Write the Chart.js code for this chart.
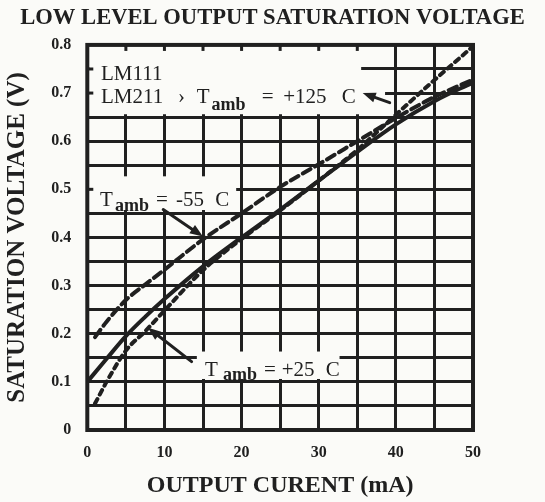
<!DOCTYPE html>
<html><head><meta charset="utf-8">
<script src="https://cdn.jsdelivr.net/npm/chart.js@4.4.0/dist/chart.umd.min.js"></script>
<style>html,body{margin:0;padding:0;background:#fbfbf8;}</style>
</head><body>
<canvas id="c" width="545" height="502" style="width:545px;height:502px;display:block"></canvas>
<script>
// ---- data ----
const currentPlus25  = [0, 2.5, 5, 7.5, 10, 15, 20, 25, 30, 35, 40, 45, 50];
const voltagePlus25  = [0.100, 0.148, 0.195, 0.235, 0.272, 0.340, 0.400, 0.458, 0.518, 0.578, 0.635, 0.683, 0.722];
const currentMinus55 = [1, 2.5, 5, 7.5, 10, 15, 20, 25, 30, 35, 40, 45, 50];
const voltageMinus55 = [0.193, 0.225, 0.270, 0.302, 0.333, 0.396, 0.450, 0.505, 0.552, 0.600, 0.648, 0.692, 0.728];
const currentPlus125 = [1, 2.5, 5, 7.5, 10, 15, 20, 25, 30, 35, 40, 45, 50];
const voltagePlus125 = [0.055, 0.100, 0.165, 0.205, 0.248, 0.332, 0.397, 0.456, 0.518, 0.582, 0.655, 0.727, 0.797];
const xTickLabels = ['0', '10', '20', '30', '40', '50'];
const yTickLabels = ['0', '0.1', '0.2', '0.3', '0.4', '0.5', '0.6', '0.7', '0.8'];

const INK = '#202020';
const PAPER = '#fbfbf8';
const pts = (xs, ys) => xs.map((x, i) => ({x: x, y: ys[i]}));

// areas of the printed grid that are left blank (data units)
const blankAreas = [
  [0, 35.5, 0.656, 0.8],
  [0, 38.6, 0.680, 0.722],
  [0, 19.3, 0.457, 0.527],
  [14.2, 32.7, 0.106, 0.163]
];

const paperPlugin = {
  id: 'paper',
  beforeDraw(chart) {
    const c = chart.ctx;
    c.save(); c.fillStyle = PAPER; c.fillRect(0, 0, chart.width, chart.height); c.restore();
  },
  beforeDatasetsDraw(chart) {
    const c = chart.ctx, xs = chart.scales.x, ys = chart.scales.y, a = chart.chartArea;
    c.save();
    c.fillStyle = PAPER;
    blankAreas.forEach(b => {
      let x0 = Math.max(xs.getPixelForValue(b[0]), a.left + 2);
      let x1 = xs.getPixelForValue(b[1]);
      let y0 = Math.max(ys.getPixelForValue(b[3]), a.top + 2);
      let y1 = ys.getPixelForValue(b[2]);
      c.fillRect(x0, y0, x1 - x0, y1 - y0);
    });
    c.strokeStyle = INK; c.lineWidth = 3;
    [5, 10, 15, 20, 25, 30, 35].forEach(v => {
      const x = xs.getPixelForValue(v);
      c.beginPath(); c.moveTo(x, a.top); c.lineTo(x, a.top + 6); c.stroke();
    });
    [0.7, 0.75, 0.5].forEach(v => {
      const y = ys.getPixelForValue(v);
      c.beginPath(); c.moveTo(a.left, y); c.lineTo(a.left + 6, y); c.stroke();
    });
    c.lineWidth = 4;
    c.strokeRect(a.left, a.top, a.right - a.left, a.bottom - a.top);
    c.restore();
  },
  afterDatasetsDraw(chart) {
    const c = chart.ctx, xs = chart.scales.x, ys = chart.scales.y;
    const X = v => xs.getPixelForValue(v), Y = v => ys.getPixelForValue(v);
    c.save();
    c.fillStyle = INK; c.strokeStyle = INK;
    c.textBaseline = 'alphabetic'; c.textAlign = 'left';
    const main = '21px "Liberation Serif"';
    const sub = 'bold 18px "Liberation Serif"';
    const txt = (s, x, y, f) => { c.font = f; c.fillText(s, X(x), Y(y)); };
    // LM111 / LM211 } Tamb = +125 C
    txt('LM111', 1.77, 0.727, main);
    txt('LM211', 1.77, 0.679, main);
    txt('›', 11.75, 0.679, main);
    txt('T', 14.2, 0.679, main);
    txt('amb', 16.1, 0.664, sub);
    txt('=', 22.6, 0.679, main);
    txt('+125', 25.4, 0.679, main);
    txt('C', 33.0, 0.679, main);
    // Tamb = -55 C
    txt('T', 1.65, 0.465, main);
    txt('amb', 3.6, 0.454, sub);
    txt('=', 8.9, 0.465, main);
    txt('-55', 11.5, 0.465, main);
    txt('C', 16.6, 0.465, main);
    // Tamb = +25 C
    txt('T', 15.25, 0.113, main);
    txt('amb', 17.6, 0.104, sub);
    txt('=', 22.9, 0.113, main);
    txt('+25', 25.2, 0.113, main);
    txt('C', 30.9, 0.113, main);
    // arrows
    const arrow = (tx, ty, hx, hy) => {
      const x0 = X(tx), y0 = Y(ty), x1 = X(hx), y1 = Y(hy);
      const ang = Math.atan2(y1 - y0, x1 - x0), L = 13, W = 5;
      c.lineWidth = 3; c.lineCap = 'round';
      c.beginPath(); c.moveTo(x0, y0); c.lineTo(x1 - Math.cos(ang) * L * 0.7, y1 - Math.sin(ang) * L * 0.7); c.stroke();
      c.beginPath();
      c.moveTo(x1, y1);
      c.lineTo(x1 - Math.cos(ang) * L - Math.sin(ang) * W, y1 - Math.sin(ang) * L + Math.cos(ang) * W);
      c.lineTo(x1 - Math.cos(ang) * L + Math.sin(ang) * W, y1 - Math.sin(ang) * L - Math.cos(ang) * W);
      c.closePath(); c.fill();
    };
    arrow(9.84, 0.458, 14.99, 0.402);
    arrow(13.52, 0.142, 7.86, 0.2125);
    arrow(39.2, 0.680, 35.7, 0.700);
    c.restore();
  }
};

const serif = '"Liberation Serif", "Times New Roman", serif';

new Chart(document.getElementById('c'), {
  type: 'line',
  data: {
    datasets: [
      { label: 'Tamb = +25 C', data: pts(currentPlus25, voltagePlus25), borderColor: INK, borderWidth: 4,
        pointRadius: 0, cubicInterpolationMode: 'monotone', fill: false },
      { label: 'Tamb = -55 C', data: pts(currentMinus55, voltageMinus55), borderColor: INK, borderWidth: 4,
        borderDash: [9, 5], borderCapStyle: 'round', pointRadius: 0, cubicInterpolationMode: 'monotone', fill: false },
      { label: 'Tamb = +125 C', data: pts(currentPlus125, voltagePlus125), borderColor: INK, borderWidth: 4,
        borderDash: [5, 5], borderCapStyle: 'round', pointRadius: 0, cubicInterpolationMode: 'monotone', fill: false }
    ]
  },
  options: {
    responsive: false, animation: false, devicePixelRatio: 1,
    layout: { padding: 0 },
    plugins: {
      legend: { display: false }, tooltip: { enabled: false },
      title: { display: true, text: 'LOW LEVEL OUTPUT SATURATION VOLTAGE', color: INK,
        font: { family: serif, size: 22.6, weight: 'bold' }, padding: { top: 4.9, bottom: 12.9 } }
    },
    scales: {
      x: {
        type: 'linear', min: 0, max: 50,
        afterFit(s) { s.height = 72; },
        grid: { color: INK, lineWidth: 3, drawTicks: false },
        border: { display: false },
        ticks: { stepSize: 5, autoSkip: false, maxRotation: 0, padding: 13, color: INK,
          font: { family: serif, size: 16, weight: 'bold' },
          callback: v => { const i = xTickLabels.indexOf(String(v)); return i >= 0 ? xTickLabels[i] : ''; } },
        title: { display: true, text: 'OUTPUT CURENT (mA)', color: INK,
          font: { family: serif, size: 24, weight: 'bold' }, padding: { top: 0, bottom: 1.5 } }
      },
      y: {
        type: 'linear', min: 0, max: 0.8,
        afterFit(s) { s.width = 87.3; },
        grid: { color: INK, lineWidth: 3, drawTicks: false },
        border: { display: false },
        ticks: { stepSize: 0.05, autoSkip: false, padding: 16, color: INK,
          font: { family: serif, size: 16, weight: 'bold' },
          callback: v => { const s = (Math.round(v * 100) / 100).toString(); return yTickLabels.indexOf(s) >= 0 ? s : ''; } },
        title: { display: true, text: 'SATURATION VOLTAGE (V)', color: INK,
          font: { family: serif, size: 25, weight: 'bold' }, padding: { top: 2.5, bottom: 0 } }
      },
      spacer: {
        type: 'linear', position: 'right', min: 0, max: 1,
        afterFit(s) { s.width = 72; },
        grid: { display: false }, border: { display: false }, ticks: { display: false }
      }
    }
  },
  plugins: [paperPlugin]
});
</script>
</body></html>
